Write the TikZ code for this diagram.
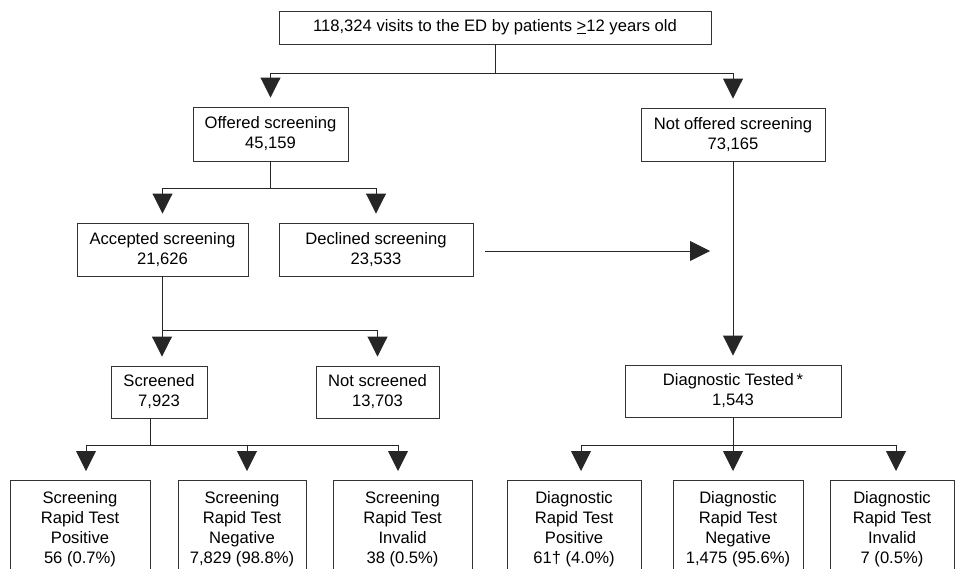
\documentclass[tikz,border=0pt]{standalone}
\usepackage{fontspec}
\setmainfont{Liberation Sans}
\usetikzlibrary{arrows.meta,calc}
\tikzset{
  box/.style={draw=black!80, line width=0.9pt, align=center, inner sep=0pt,
    font=\fontsize{16.6}{20}\selectfont},
  leaf/.style={box, anchor=north, inner xsep=0pt, inner ysep=11pt},
  conn/.style={draw=black!85, line width=0.9pt},
  arr/.style={conn, -{Triangle[width=20pt,length=20pt]}, shorten >=9pt},
}
\begin{document}
\begin{tikzpicture}[x=1pt,y=-1pt]
\useasboundingbox (0,0) rectangle (960,568);
\clip (0,0) rectangle (960,568);
% nodes
\node[box, minimum width=432, minimum height=33] (top) at (495,27.5)
  {118,324 visits to the ED by patients \underline{>}12 years old};
\node[box, minimum width=155, minimum height=54] (offered) at (270.5,134)
  {Offered screening\\45,159};
\node[box, minimum width=184, minimum height=53] (notoff) at (733,134.5)
  {Not offered screening\\73,165};
\node[box, minimum width=171, minimum height=53] (accepted) at (162.5,249.5)
  {Accepted screening\\21,626};
\node[box, minimum width=194, minimum height=53] (declined) at (376,249.5)
  {Declined screening\\23,533};
\node[box, minimum width=96, minimum height=52] (screened) at (159,392)
  {Screened\\7,923};
\node[box, minimum width=123, minimum height=52] (notscr) at (377.5,392)
  {Not screened\\13,703};
\node[box, minimum width=216, minimum height=52] (diag) at (733,391)
  {Diagnostic Tested\,*\\1,543};
\node[leaf, minimum width=140] (b1) at (80,480)
  {Screening\\Rapid Test\\Positive\\56 (0.7\%)};
\node[leaf, minimum width=128] (b2) at (242,480)
  {Screening\\Rapid Test\\Negative\\7,829 (98.8\%)};
\node[leaf, minimum width=139] (b3) at (402.5,480)
  {Screening\\Rapid Test\\Invalid\\38 (0.5\%)};
\node[leaf, minimum width=134] (b4) at (574,480)
  {Diagnostic\\Rapid Test\\Positive\\61† (4.0\%)};
\node[leaf, minimum width=130] (b5) at (738,480)
  {Diagnostic\\Rapid Test\\Negative\\1,475 (95.6\%)};
\node[leaf, minimum width=124] (b6) at (892,480)
  {Diagnostic\\Rapid Test\\Invalid\\7 (0.5\%)};
% junction coordinates
\coordinate (j1) at (495,73);
\coordinate (j2) at (270,188);
\coordinate (j3) at (162,330);
\coordinate (j5) at (150,445);
\coordinate (a1) at (86,445);
\coordinate (a2) at (247,445);
\coordinate (a3) at (398,445);
\coordinate (j6) at (733,445);
\coordinate (a4) at (581,445);
\coordinate (a5) at (733,445);
\coordinate (a6) at (896,445);
\coordinate (dtip) at (710,251);
% connectors
\draw[conn] (top.south) -- (j1);
\draw[arr] (j1) -| (offered.north);
\draw[arr] (j1) -| (notoff.north);
\draw[conn] (j2 |- offered.south) -- (j2);
\draw[arr] (j2) -| (accepted.north);
\draw[arr] (j2) -| (declined.north);
\draw[arr] (notoff.south) -- (diag.north);
\draw[arr, shorten <=12pt, shorten >=0pt] (declined.east |- dtip) -- (dtip);
\draw[conn] (j3 |- accepted.south) -- (j3);
\draw[arr] (j3) -- (j3 |- screened.north);
\draw[arr] (j3) -| (notscr.north);
\draw[conn] (j5 |- screened.south) -- (j5);
\draw[conn] (a1) -- (a3);
\draw[arr] (a1) -- (a1 |- b1.north);
\draw[arr] (a2) -- (a2 |- b2.north);
\draw[arr] (a3) -- (a3 |- b3.north);
\draw[conn] (diag.south) -- (j6);
\draw[conn] (a4) -- (a6);
\draw[arr] (a4) -- (a4 |- b4.north);
\draw[arr] (a5) -- (a5 |- b5.north);
\draw[arr] (a6) -- (a6 |- b6.north);
\end{tikzpicture}
\end{document}
